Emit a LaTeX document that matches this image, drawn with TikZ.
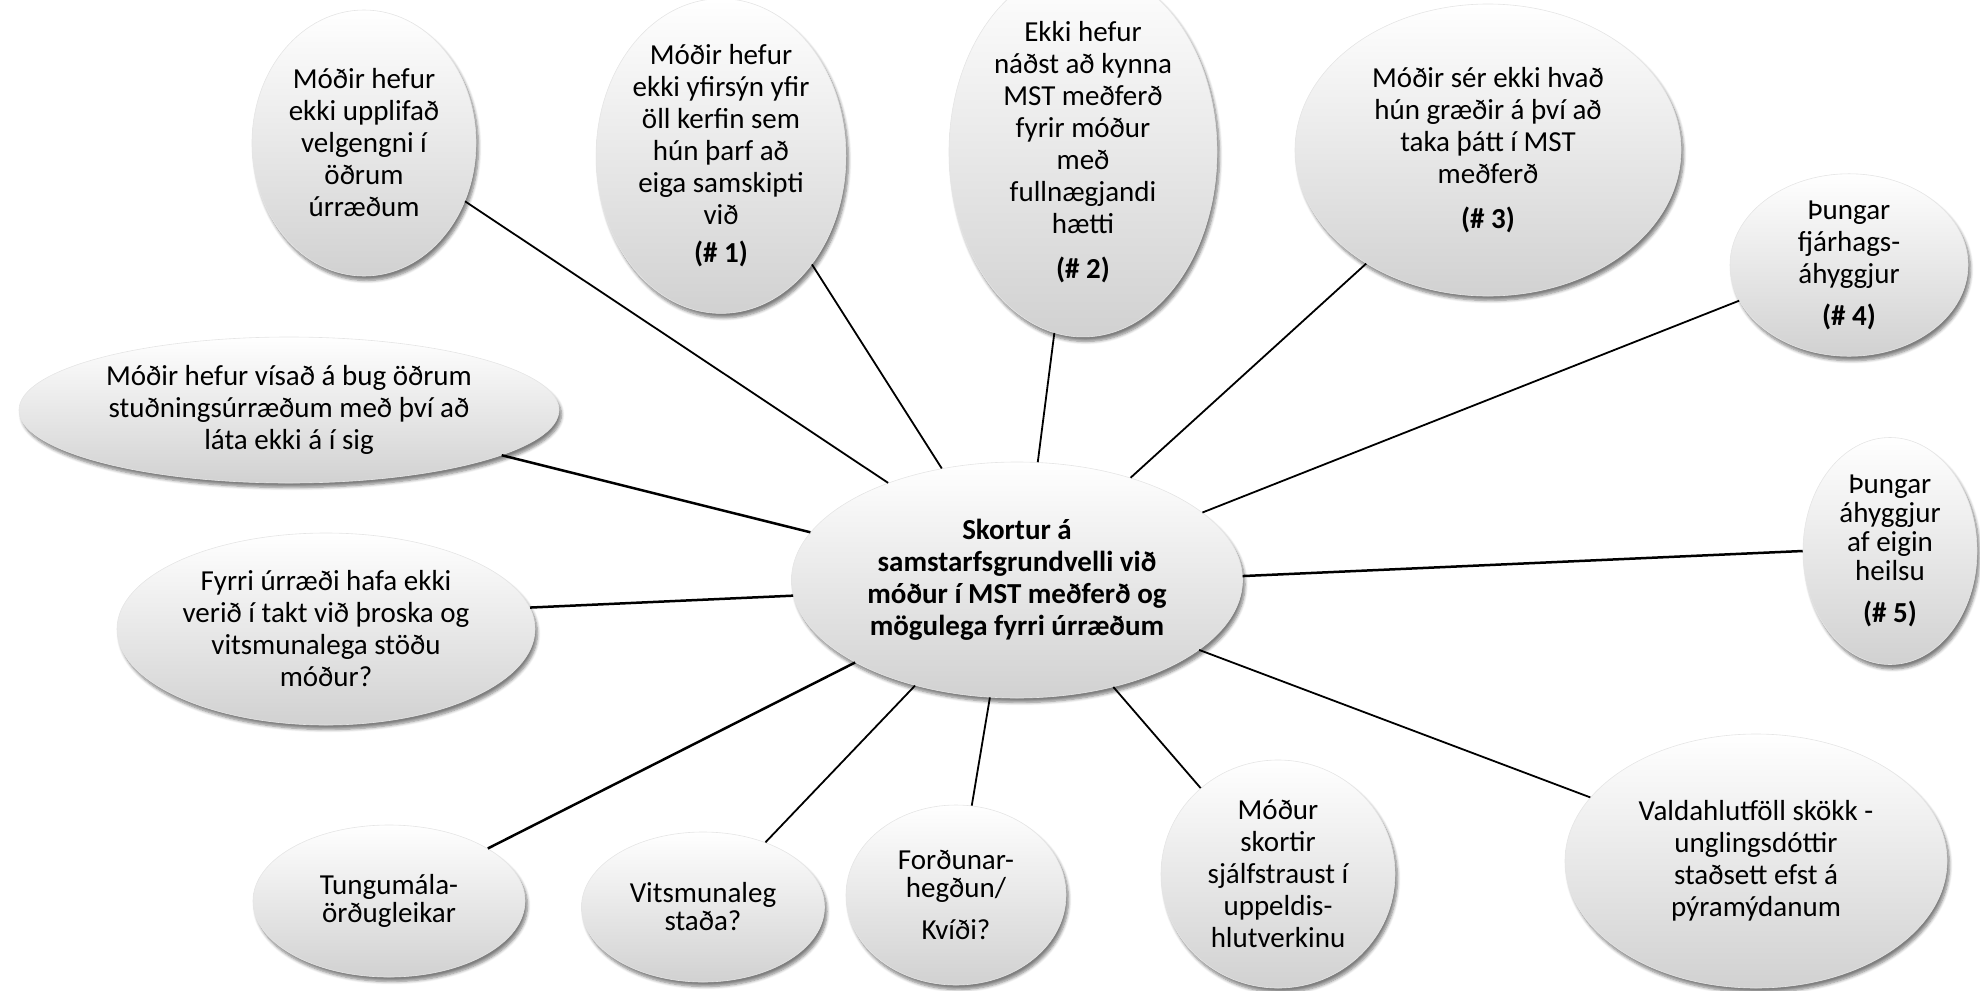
\documentclass[tikz,border=0pt]{standalone}
\usepackage{fontspec}
\setmainfont{Carlito}
\usetikzlibrary{shapes.geometric,shadows.blur}
\tikzset{
  bub/.style={ellipse, inner sep=0pt, align=center,
    draw=black!10, line width=0.6bp,
    top color=white, middle color=white, bottom color=black!18,
    blur shadow={shadow xshift=2.5bp, shadow yshift=-4.5bp, shadow opacity=50, shadow blur radius=3bp, shadow blur steps=6},
    font=\fontsize{29bp}{32bp}\selectfont},
  tight/.style={font=\fontsize{29bp}{28bp}\selectfont},
  link/.style={line width=1.8bp, black},
  thicklink/.style={line width=2.5bp, black}
}
\begin{document}
\begin{tikzpicture}[x=1bp,y=1bp]
\useasboundingbox (0,0) rectangle (1980,-990);
\node[bub, minimum width=224bp, minimum height=266bp] (e1) at (364,-143)
  {Móðir hefur\\ekki upplifað\\velgengni í\\öðrum\\úrræðum};
\node[bub, minimum width=246bp, minimum height=272bp] (e2) at (721,-156)
  {Móðir hefur\\ekki yfirsýn yfir\\öll kerfin sem\\hún þarf að\\eiga samskipti\\við\\[6bp]\textbf{(\# 1)}};
\node[bub, minimum width=268bp, minimum height=294bp] (e3) at (1083,-152)
  {Ekki hefur\\náðst að kynna\\MST meðferð\\fyrir móður\\með\\fullnægjandi\\hætti\\[13bp]\textbf{(\# 2)}};
\node[bub, minimum width=386bp, minimum height=292bp] (e4) at (1488,-150)
  {Móðir sér ekki hvað\\hún græðir á því að\\taka þátt í MST\\meðferð\\[13bp]\textbf{(\# 3)}};
\node[bub, minimum width=238bp, minimum height=166bp] (e5) at (1849,-265)
  {Þungar\\fjárhags-\\áhyggjur\\[10bp]\textbf{(\# 4)}};
\node[bub, font=\fontsize{29bp}{29bp}\selectfont, minimum width=174bp, minimum height=227bp] (e6) at (1890,-551)
  {Þungar\\áhyggjur\\af eigin\\heilsu\\[13bp]\textbf{(\# 5)}};
\node[bub, minimum width=540bp, minimum height=146bp] (e7) at (289,-410)
  {Móðir hefur vísað á bug öðrum\\stuðningsúrræðum með því að\\láta ekki á í sig};
\node[bub, minimum width=418bp, minimum height=192bp] (e8) at (326,-629)
  {Fyrri úrræði hafa ekki\\verið í takt við þroska og\\vitsmunalega stöðu\\móður?};
\node[bub, tight, minimum width=272bp, minimum height=152bp] (e9) at (389,-901)
  {Tungumála-\\örðugleikar};
\node[bub, tight, minimum width=243bp, minimum height=150bp] (e10) at (703,-907)
  {Vitsmunaleg\\staða?};
\node[bub, tight, minimum width=220bp, minimum height=180bp] (e11) at (956,-895)
  {Forðunar-\\hegðun/\\[14bp]Kvíði?};
\node[bub, minimum width=234bp, minimum height=228bp] (e12) at (1278,-874)
  {Móður\\skortir\\sjálfstraust í\\uppeldis-\\hlutverkinu};
\node[bub, minimum width=382bp, minimum height=254bp] (e13) at (1756,-861)
  {Valdahlutföll skökk -\\unglingsdóttir\\staðsett efst á\\pýramýdanum};
\node[bub, minimum width=451bp, minimum height=236bp] (c) at (1017,-580)
  {\textbf{Skortur á}\\\textbf{samstarfsgrundvelli við}\\\textbf{móður í MST meðferð og}\\\textbf{mögulega fyrri úrræðum}};
\draw[link] (e1.-30) -- (c.143.5);
\draw[link] (e2.-50) -- (c.124);
\draw[link] (e3.261) -- (c.80);
\draw[link] (e4.223) -- (c.42);
\draw[link] (e5.198) -- (c.20);
\draw[thicklink] (c.1) -- (e6.180);
\draw[thicklink] (e7.-12) -- (c.167);
\draw[thicklink] (e8.6) -- (c.184);
\draw[thicklink] (e9.28) -- (c.207);
\draw[link] (e10.46) -- (c.226);
\draw[link] (e11.80) -- (c.257);
\draw[link] (e12.132) -- (c.312);
\draw[link] (e13.159) -- (c.339);
\end{tikzpicture}
\end{document}
